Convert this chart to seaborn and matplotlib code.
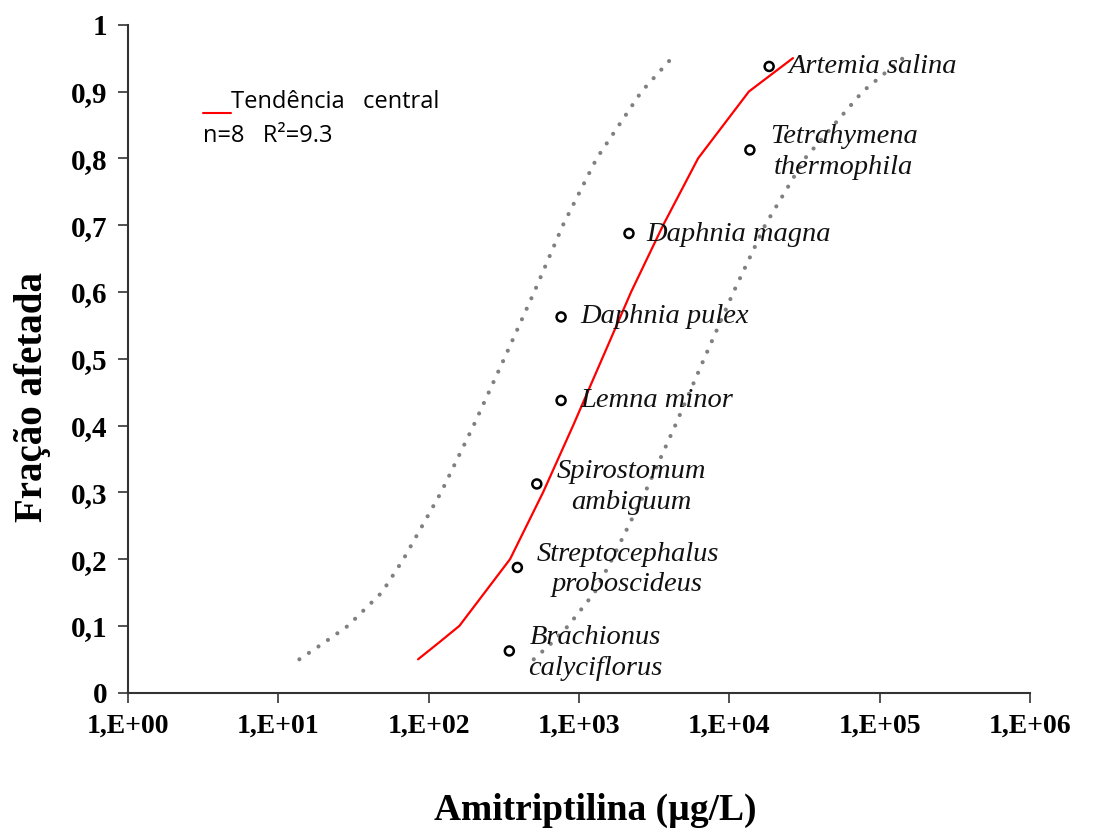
import numpy as np
import pandas as pd
import matplotlib
matplotlib.use("Agg")
import matplotlib.pyplot as plt
from matplotlib.lines import Line2D
import seaborn as sns

# ---- data ----
species = ["Brachionus\ncalyciflorus", "Streptocephalus\nproboscideus", "Spirostomum\nambiguum",
           "Lemna minor", "Daphnia pulex", "Daphnia magna", "Tetrahymena\nthermophila", "Artemia salina"]
species_conc = [344, 389, 524, 760, 760, 2150, 13700, 18400]
species_frac = [0.0625, 0.1875, 0.3125, 0.4375, 0.5625, 0.6875, 0.8125, 0.9375]

curve_frac = [0.05, 0.075, 0.1, 0.15, 0.2, 0.3, 0.4, 0.5, 0.6, 0.7, 0.8, 0.9, 0.95]
central_conc = [85, 117, 160, 236, 348, 577, 914, 1425, 2222, 3630, 6200, 13500, 26500]
lower_conc = [13.8, 20.2, 29, 48.8, 68, 121, 199, 318, 504, 782, 1312, 2606, 4140]
upper_conc = [500, 662, 847, 1270, 1660, 2754, 4365, 6800, 10670, 17300, 31900, 77100, 143000]

xtick_vals = [1, 10, 100, 1000, 1e4, 1e5, 1e6]
xtick_labels = ["1,E+00", "1,E+01", "1,E+02", "1,E+03", "1,E+04", "1,E+05", "1,E+06"]
ytick_vals = [0, 0.1, 0.2, 0.3, 0.4, 0.5, 0.6, 0.7, 0.8, 0.9, 1.0]
ytick_labels = ["0", "0,1", "0,2", "0,3", "0,4", "0,5", "0,6", "0,7", "0,8", "0,9", "1"]

# label offsets in pixels (layout only)
label_offsets = [(19, -2), (19, -2), (20, -3), (19, 0), (19, 0), (17, -1), (20, -2), (19, 0)]

sns.set_theme(style="white")
plt.rcParams['font.family'] = ['Liberation Serif', 'DejaVu Serif']
plt.rcParams['text.color'] = 'black'
plt.rcParams['xtick.color'] = 'black'
plt.rcParams['ytick.color'] = 'black'

fig = plt.figure(figsize=(10.99, 8.34), dpi=100)
ax = fig.add_axes([128/1099, 1-692.7/834, (1030-128)/1099, (692.7-24.7)/834])

n = len(curve_frac)
curves = pd.DataFrame({
    "conc": central_conc + lower_conc + upper_conc,
    "frac": curve_frac * 3,
    "curve": ["central"] * n + ["lower"] * n + ["upper"] * n,
})

sns.lineplot(data=curves[curves.curve == "central"], x="conc", y="frac", sort=False,
             color="#ff0000", linewidth=1.6, ax=ax, legend=False)
for name in ["lower", "upper"]:
    sns.lineplot(data=curves[curves.curve == name], x="conc", y="frac", sort=False,
                 color="#808080", linewidth=3.0, ax=ax, legend=False,
                 linestyle=(0, (0.01, 2.75)), dash_capstyle="round")

pts = pd.DataFrame({"conc": species_conc, "frac": species_frac, "sp": species})
sns.scatterplot(data=pts, x="conc", y="frac", ax=ax, s=42, marker="o",
                facecolor="none", edgecolor="black", linewidth=1.8, zorder=5)

for sp, c, f, off in zip(species, species_conc, species_frac, label_offsets):
    ax.annotate(sp, (c, f), xytext=off, textcoords="offset pixels",
                ha="left", va="center", multialignment="center",
                fontsize=20.5, fontstyle="italic", color="#111111",
                family=['Liberation Serif', 'DejaVu Serif'], linespacing=1.28)

ax.set_xscale("log")
ax.set_xlim(1, 1e6)
ax.set_ylim(0, 1)
ax.set_xticks(xtick_vals)
ax.set_xticklabels(xtick_labels, fontsize=20, fontweight="bold")
ax.minorticks_off()
ax.set_yticks(ytick_vals)
ax.set_yticklabels(ytick_labels, fontsize=21, fontweight="bold")
ax.tick_params(axis="both", direction="out", length=7, width=1.2, color="#333333",
               labelcolor="black", bottom=True, left=True, pad=8)
for s in ["top", "right"]:
    ax.spines[s].set_visible(False)
for s in ["left", "bottom"]:
    ax.spines[s].set_color("#333333")
    ax.spines[s].set_linewidth(1.5)

ax.set_xlabel("")
ax.set_ylabel("")
fig.text(595/1099, 1-810/834, "Amitriptilina (µg/L)", fontsize=27, fontweight="bold",
         ha="center", va="center", color="black")
fig.text(33/1099, 1-397/834, "Fração afetada", fontsize=28, fontweight="bold",
         ha="center", va="center", rotation=90, color="black")

# legend-like text
fig.add_artist(Line2D([203/1099, 231/1099], [1-113/834, 1-113/834], color="#ff0000", linewidth=1.5))
fig.text(231/1099, 1-102/834, "Tendência   central", fontsize=17, family=["Open Sans", "DejaVu Sans"],
         va="center", ha="left", color="black")
fig.text(203/1099, 1-136/834, "n=8   R²=9.3", fontsize=17, family=["Open Sans", "DejaVu Sans"],
         va="center", ha="left", color="black")

fig.savefig("out.png", dpi=100, facecolor="white")
